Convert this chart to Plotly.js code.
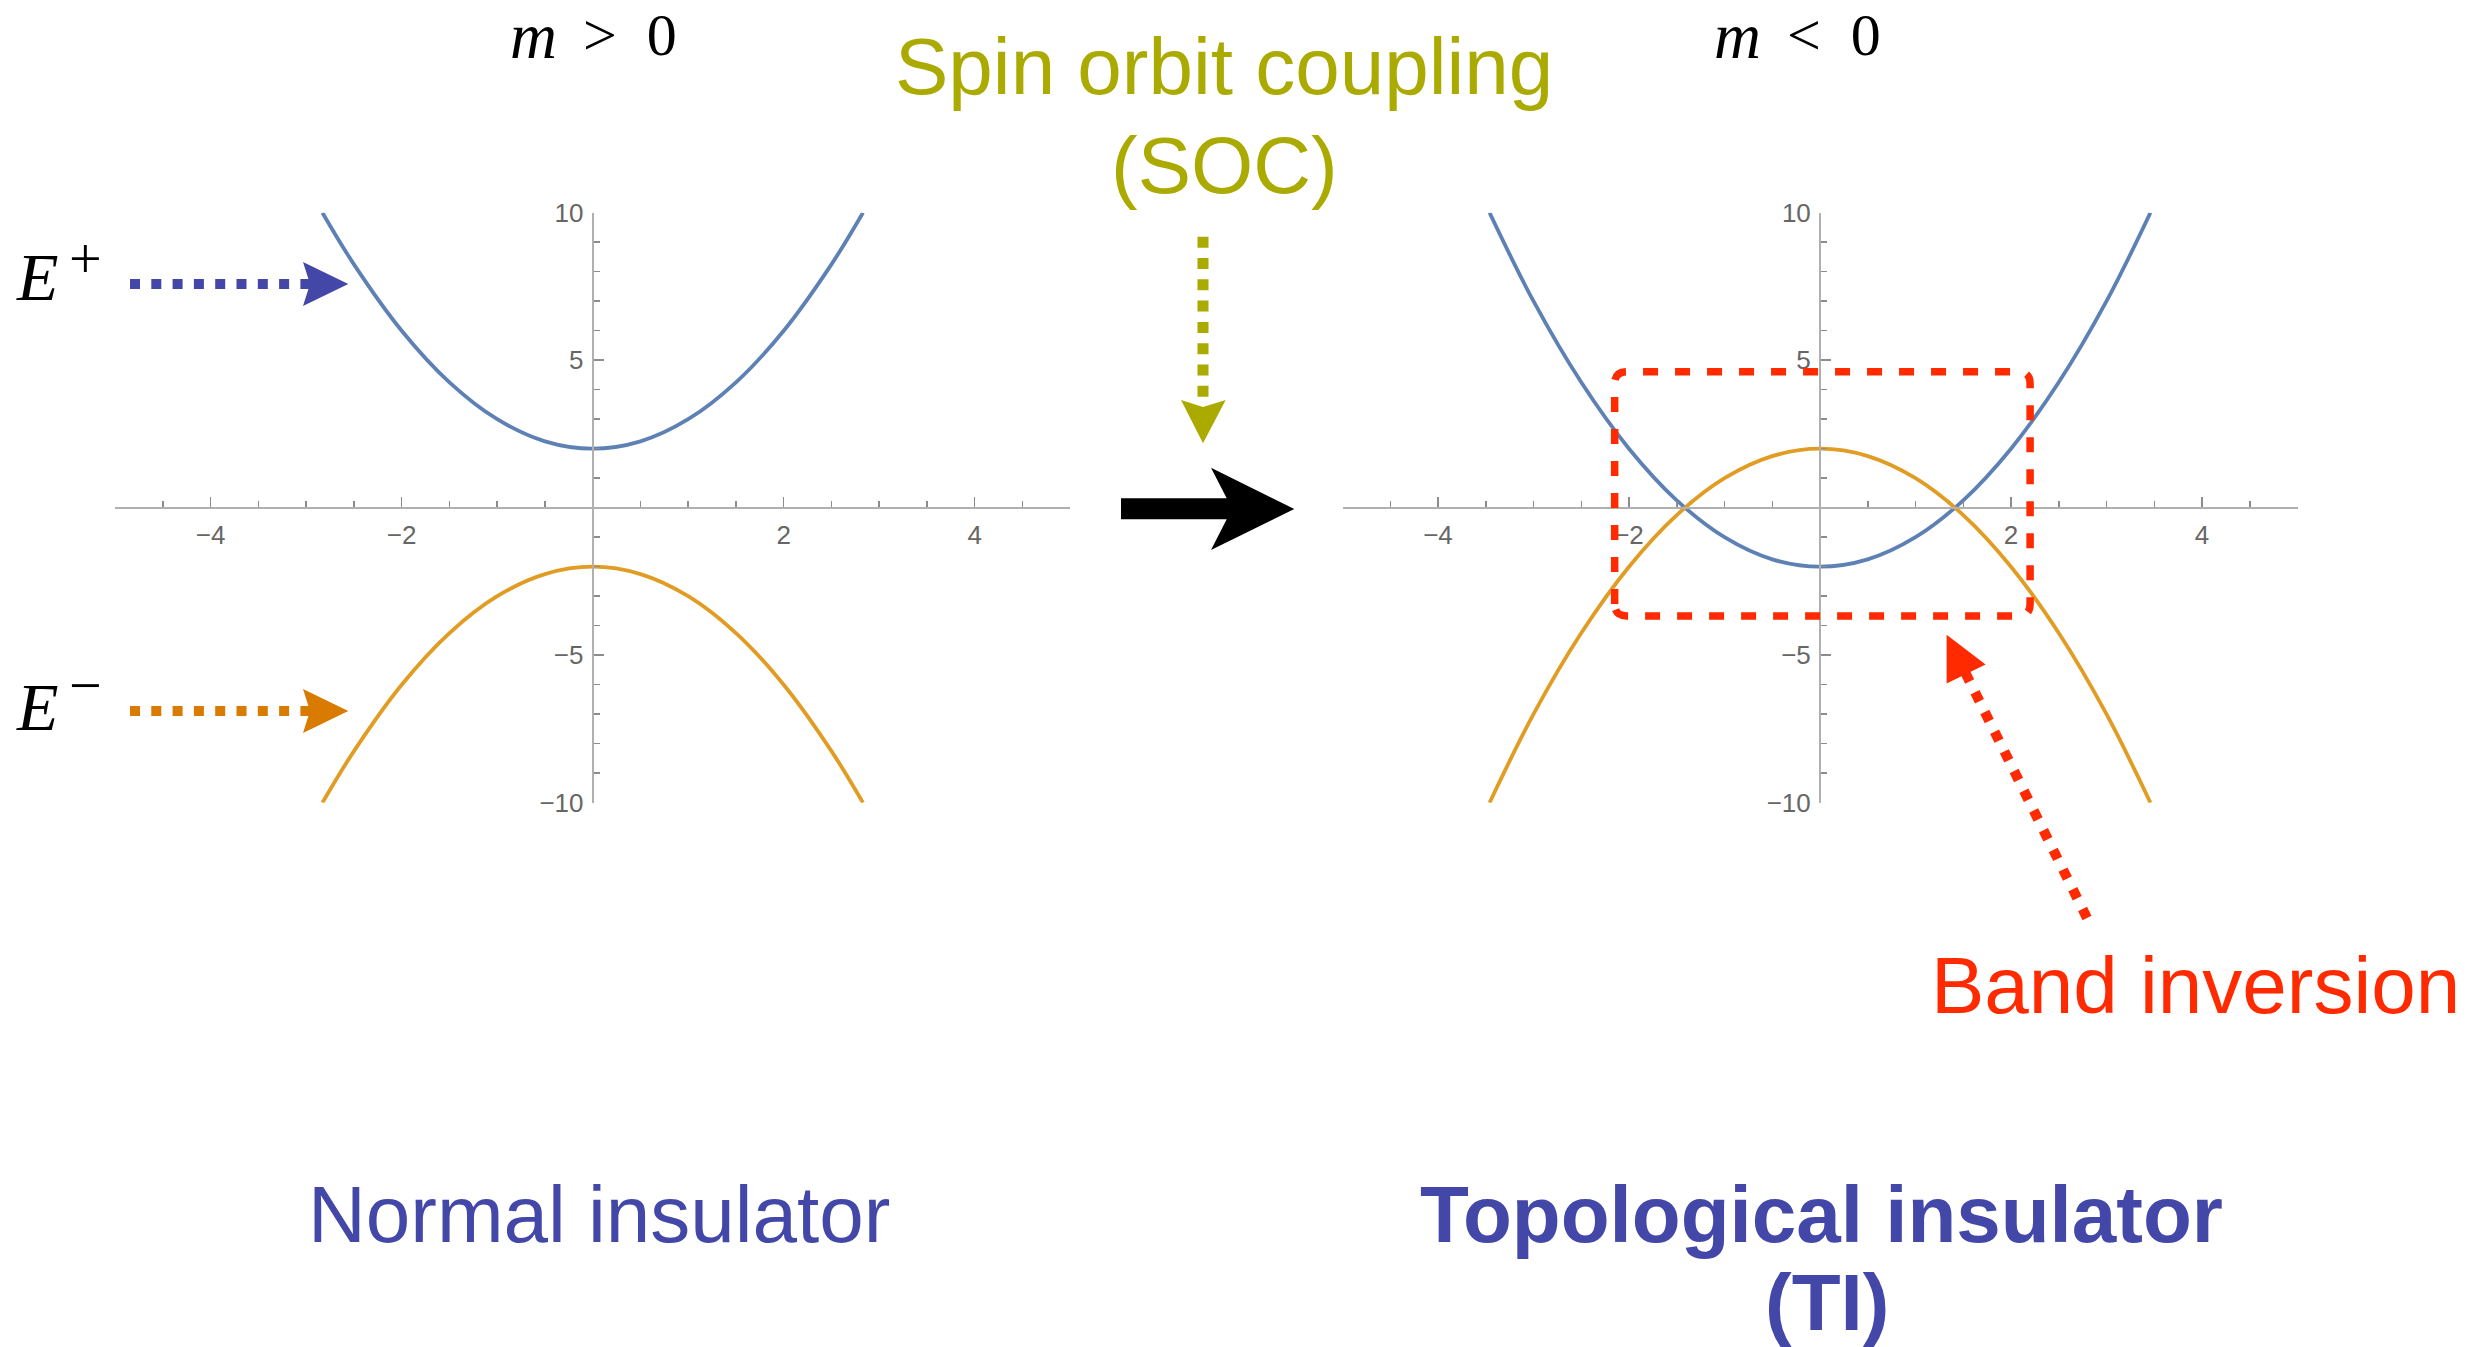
<!DOCTYPE html>
<html>
<head>
<meta charset="utf-8">
<script src="https://cdn.plot.ly/plotly-3.0.1.min.js"></script>
<style>html,body{margin:0;padding:0;background:#fff;}#chart{width:2487px;height:1347px;}</style>
</head>
<body>
<div id="chart"></div>
<script>
// ---------- data ----------
// Normal insulator, m > 0
const kLeft        = [-2.83, -2.5, -2, -1.5, -1, -0.5, 0, 0.5, 1, 1.5, 2, 2.5, 2.83];
const eUpperLeft   = [10, 8.25, 6, 4.25, 3, 2.25, 2, 2.25, 3, 4.25, 6, 8.25, 10];
const eLowerLeft   = [-10, -8.25, -6, -4.25, -3, -2.25, -2, -2.25, -3, -4.25, -6, -8.25, -10];
// Topological insulator, m < 0
const kRight       = [-3.46, -3, -2.5, -2, -1.5, -1, -0.5, 0, 0.5, 1, 1.5, 2, 2.5, 3, 3.46];
const eUpperRight  = [10, 7, 4.25, 2, 0.25, -1, -1.75, -2, -1.75, -1, 0.25, 2, 4.25, 7, 10];
const eLowerRight  = [-10, -7, -4.25, -2, -0.25, 1, 1.75, 2, 1.75, 1, -0.25, -2, -4.25, -7, -10];
// axis ticks
const xRange       = [-5, 5];
const yRange       = [-10, 10];
const xTickVals    = [-4, -2, 2, 4];
const xMinorVals   = [-5, -4.5, -3.5, -3, -2.5, -1.5, -1, -0.5, 0.5, 1, 1.5, 2.5, 3, 3.5, 4.5, 5];
const yTickVals    = [-10, -5, 5, 10];
const yMinorVals   = [-9, -8, -7, -6, -4, -3, -2, -1, 1, 2, 3, 4, 6, 7, 8, 9];
// band-inversion box (right-panel data units)
const boxX         = [-2.15, 2.2];
const boxY         = [-3.67, 4.61];
// texts
const mSymbol      = 'm';
const relLeft      = '>\u20020';
const relRight     = '<\u20020';
const eSymbol      = 'E';
const supPlus      = '+';
const supMinus     = '\u2212';
const socLine1     = 'Spin orbit coupling';
const socLine2     = '(SOC)';
const nameLeft     = 'Normal insulator';
const nameRight1   = 'Topological insulator';
const nameRight2   = '(TI)';
const bandLabel    = 'Band inversion';

// ---------- styling / geometry ----------
const W = 2487, H = 1347;
const px = x => x / W;
const py = y => 1 - y / H;
const BLUE_CURVE = '#5E81B5', ORANGE_CURVE = '#E19C24';
const BLUE = '#4347A8', ORANGE = '#D97B00', OLIVE = '#AAAA00', RED = '#FF2A00';
const AXIS = '#B0B0B0', TICK = '#8C8C8C';

const yTop = 212.7, yBot = 802.7, yZero = (yTop + yBot) / 2;
const leftX0 = 115.2, leftX1 = 1070.2;
const rightX0 = 1342.5, rightX1 = 2297.5;
const TICKFONT = {family: 'Liberation Sans, Arial, sans-serif', size: 26, color: '#666'};

function xAxis(x0, x1) {
  return {
    domain: [px(x0), px(x1)], range: xRange, anchor: 'free', position: py(yZero),
    showline: true, linecolor: AXIS, linewidth: 2, zeroline: false, showgrid: false,
    ticks: 'inside', tickmode: 'array', tickvals: xTickVals, ticklen: 10, tickwidth: 1.5, tickcolor: TICK,
    minor: {ticks: 'inside', tickmode: 'array', tickvals: xMinorVals, ticklen: 6, tickwidth: 1.5, tickcolor: TICK, showgrid: false},
    tickfont: TICKFONT, ticklabelstandoff: 4, fixedrange: true
  };
}
function yAxis(x0, x1) {
  return {
    domain: [py(yBot), py(yTop)], range: yRange, anchor: 'free', position: px((x0 + x1) / 2),
    showline: true, linecolor: AXIS, linewidth: 2, zeroline: false, showgrid: false,
    ticks: 'inside', tickmode: 'array', tickvals: yTickVals, ticklen: 10, tickwidth: 1.5, tickcolor: TICK,
    minor: {ticks: 'inside', tickmode: 'array', tickvals: yMinorVals, ticklen: 6, tickwidth: 1.5, tickcolor: TICK, showgrid: false},
    tickfont: TICKFONT, ticklabelstandoff: 3, fixedrange: true
  };
}

const curve = (x, y, color, xa, ya) => ({
  x: x, y: y, xaxis: xa, yaxis: ya, type: 'scatter', mode: 'lines',
  line: {color: color, width: 3.8, shape: 'spline', smoothing: 1}, hoverinfo: 'skip'
});

const traces = [
  curve(kLeft, eUpperLeft, BLUE_CURVE, 'x', 'y'),
  curve(kLeft, eLowerLeft, ORANGE_CURVE, 'x', 'y'),
  curve(kRight, eUpperRight, BLUE_CURVE, 'x2', 'y2'),
  curve(kRight, eLowerRight, ORANGE_CURVE, 'x2', 'y2')
];

// ---------- decorative arrows (pixel -> paper) ----------
function pathPx(points) {
  return 'M ' + points.map(p => px(p[0]) + ',' + py(p[1])).join(' L ') + ' Z';
}
function dotted(x0, y0, x1, y1, color, width, dash) {
  return {type: 'line', xref: 'paper', yref: 'paper', x0: px(x0), y0: py(y0), x1: px(x1), y1: py(y1),
          line: {color: color, width: width, dash: dash}};
}
function fillPath(points, color) {
  return {type: 'path', xref: 'paper', yref: 'paper', path: pathPx(points),
          fillcolor: color, line: {width: 0}};
}

// rounded box in right-panel data coordinates
const rx = 12 / 95.5, ry = 12 / 29.5;
const [bx0, bx1] = boxX, [by0, by1] = boxY;
const boxPath = `M ${bx0},${by0 + ry} L ${bx0},${by1 - ry} Q ${bx0},${by1} ${bx0 + rx},${by1} ` +
  `L ${bx1 - rx},${by1} Q ${bx1},${by1} ${bx1},${by1 - ry} L ${bx1},${by0 + ry} ` +
  `Q ${bx1},${by0} ${bx1 - rx},${by0} L ${bx0 + rx},${by0} Q ${bx0},${by0} ${bx0},${by0 + ry}`;

const shapes = [
  // E+ arrow
  dotted(130, 284, 313, 284, BLUE, 10, '10px,11.3px'),
  fillPath([[303, 262], [310, 284], [303, 306], [348.3, 284]], BLUE),
  // E- arrow
  dotted(130, 711, 313, 711, ORANGE, 10, '10px,11.3px'),
  fillPath([[303, 689], [310, 711], [303, 733], [348.3, 711]], ORANGE),
  // SOC arrow
  dotted(1203, 236.7, 1203, 405, OLIVE, 11, '11px,10.3px'),
  fillPath([[1181, 400], [1203, 407], [1225.7, 400], [1203, 443.3]], OLIVE),
  // big black arrow
  fillPath([[1121, 498.3], [1226.7, 498.3], [1211, 467.7], [1294.3, 509], [1211, 550], [1226.7, 519.3], [1121, 519.3]], '#000'),
  // band inversion box
  {type: 'path', xref: 'x2', yref: 'y2', path: boxPath, line: {color: RED, width: 7.5, dash: '15px,17px'}},
  // band inversion arrow
  dotted(2087, 918, 1963, 668, RED, 10, '10px,12px'),
  fillPath([[1946.6, 634.8], [1985.6, 664.6], [1946.6, 683.4]], RED)
];

// ---------- texts ----------
const SANS = 'Liberation Sans, Arial, Helvetica, sans-serif';
const SERIF = 'Liberation Serif, Times New Roman, serif';
function note(text, x, y, size, color, family, opts) {
  opts = opts || {};
  return {text: text, xref: 'paper', yref: 'paper', x: px(x), y: py(y), showarrow: false,
          xanchor: opts.xanchor || 'center', yanchor: 'middle',
          font: {family: family, size: size, color: color, style: opts.style || 'normal', weight: opts.weight || 'normal'}};
}
const annotations = [
  note(mSymbol, 533, 36, 65, '#000', SERIF, {style: 'italic'}),
  note(relLeft, 630, 35, 60, '#000', SERIF),
  note(mSymbol, 1738, 36, 65, '#000', SERIF, {style: 'italic'}),
  note(relRight, 1834, 35, 60, '#000', SERIF),
  note(eSymbol, 14, 277, 68, '#000', SERIF, {xanchor: 'left', style: 'italic'}),
  note(supPlus, 85, 258, 58, '#000', SERIF),
  note(eSymbol, 14, 707, 68, '#000', SERIF, {xanchor: 'left', style: 'italic'}),
  note(supMinus, 85, 685, 58, '#000', SERIF),
  note(socLine1, 1224, 66, 80, OLIVE, SANS),
  note(socLine2, 1224, 165, 80, OLIVE, SANS),
  note(nameLeft, 599, 1214, 80, BLUE, SANS),
  note(nameRight1, 1821, 1214, 80, BLUE, SANS, {weight: 'bold'}),
  note(nameRight2, 1827, 1302, 80, BLUE, SANS, {weight: 'bold'}),
  note(bandLabel, 2195, 985, 80, RED, SANS)
];

const layout = {
  width: W, height: H, margin: {l: 0, r: 0, t: 0, b: 0, pad: 0},
  paper_bgcolor: '#fff', plot_bgcolor: 'rgba(0,0,0,0)', showlegend: false,
  xaxis: xAxis(leftX0, leftX1), yaxis: yAxis(leftX0, leftX1),
  xaxis2: xAxis(rightX0, rightX1), yaxis2: yAxis(rightX0, rightX1),
  shapes: shapes, annotations: annotations
};

Plotly.newPlot('chart', traces, layout, {displayModeBar: false, staticPlot: true});
</script>
</body>
</html>
